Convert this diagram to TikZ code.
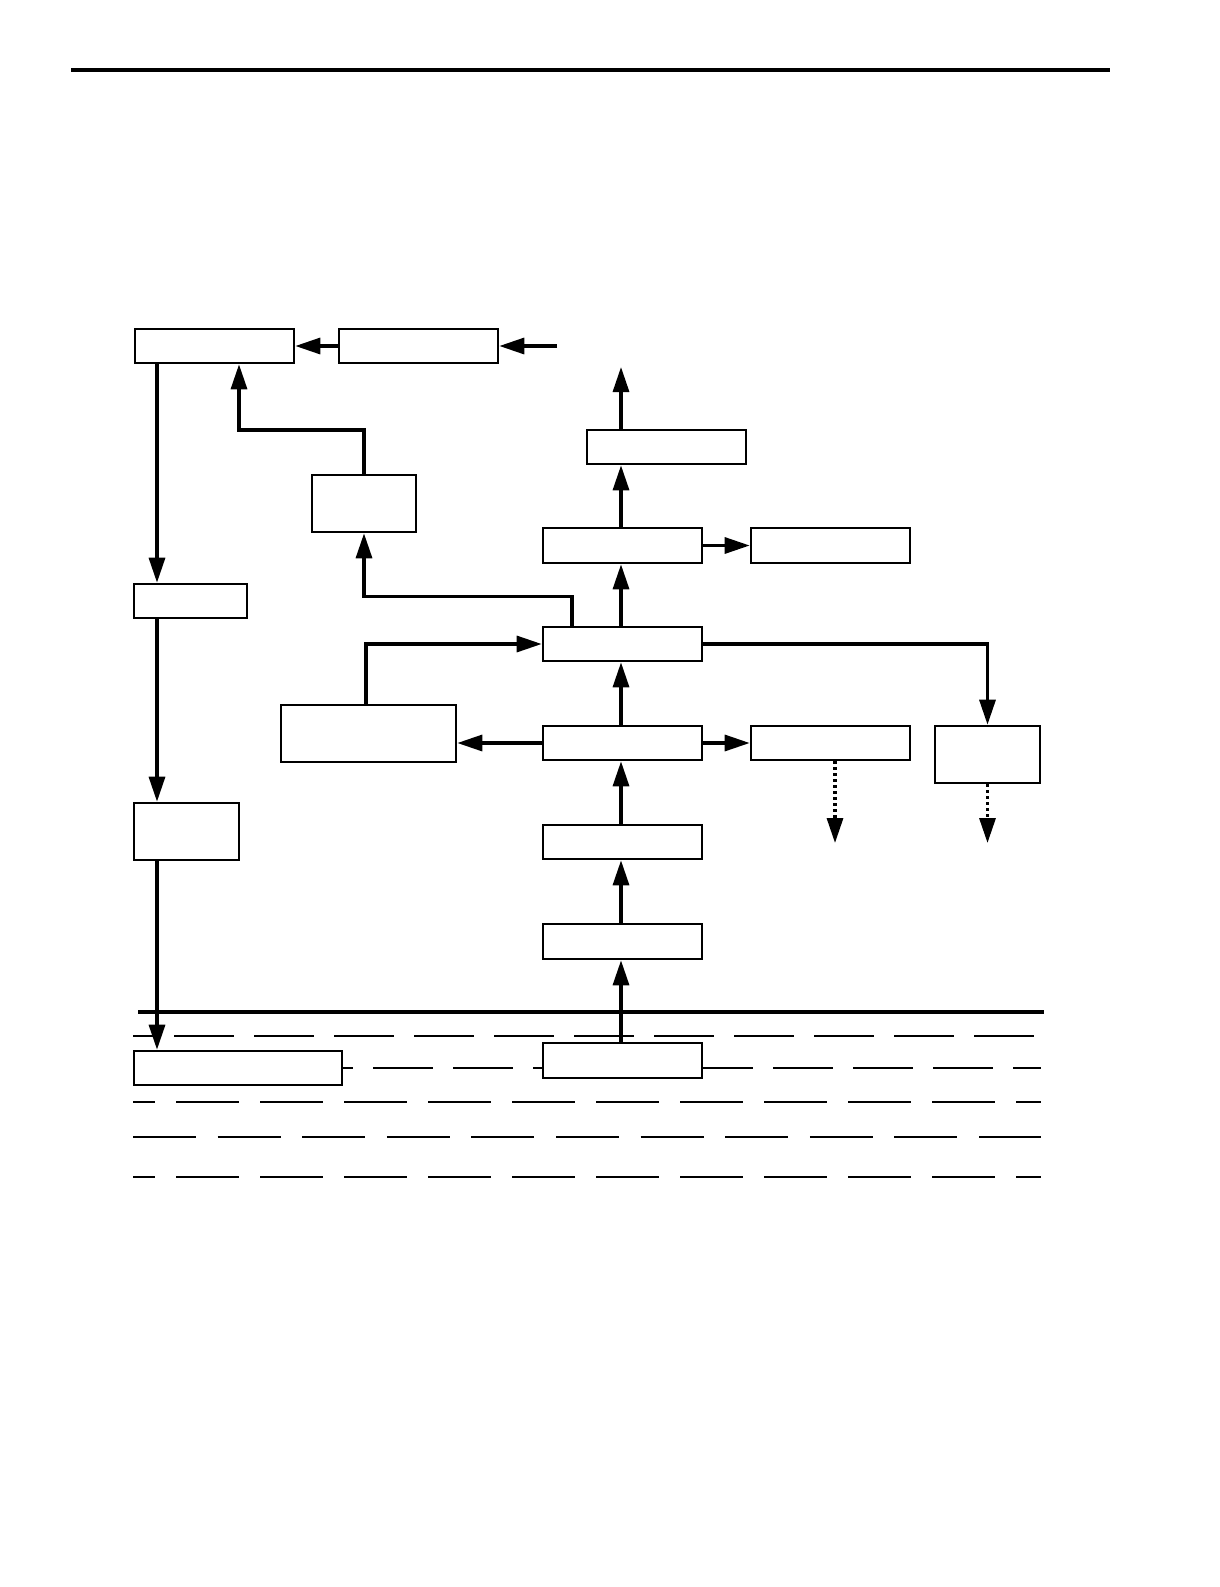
\documentclass[tikz,border=0pt]{standalone}
\usetikzlibrary{arrows.meta,calc}
\tikzset{
  box/.style={draw, line width=2.6pt, fill=white, inner sep=0pt, rectangle},
  arr/.style={line width=3.2pt, -{Triangle[length=25pt,width=16pt]}},
  dotarr/.style={line width=3.2pt, dash pattern=on 3pt off 3pt, -{Triangle[length=25pt,width=16pt]}},
  dashrow/.style={line width=2.2pt}
}
\begin{document}
\begin{tikzpicture}[x=1pt,y=-1pt]
\useasboundingbox (0,0) rectangle (1219,1587);
% top rule
\draw[line width=4pt] (71,70) -- (1110,70);
% dashed rows
\draw[dashrow, dash pattern=on 60pt off 20pt, dash phase=39pt] (133,1036) -- (1035,1036);
\draw[dashrow, dash pattern=on 60pt off 20pt] (133,1068) -- (1041,1068);
\draw[dashrow, dash pattern=on 63pt off 21pt, dash phase=41pt] (133,1102) -- (1041,1102);
\draw[dashrow, dash pattern=on 63pt off 21.6pt] (133,1137) -- (1041,1137);
\draw[dashrow, dash pattern=on 63pt off 21pt, dash phase=41pt] (133,1177) -- (1041,1177);
% thick ground line
\draw[line width=3.4pt] (138,1012) -- (1044,1012);
% boxes
\node[box, minimum width=159pt, minimum height=34pt] (A) at (214.5,346) {};
\node[box, minimum width=159pt, minimum height=34pt] (B) at (418.5,346) {};
\node[box, minimum width=113pt, minimum height=34pt] (C) at (190.5,601) {};
\node[box, minimum width=104pt, minimum height=57pt] (D) at (364,503.5) {};
\node[box, minimum width=159pt, minimum height=34pt] (E) at (666.5,447) {};
\node[box, minimum width=159pt, minimum height=35pt] (F) at (622.5,545.5) {};
\node[box, minimum width=159pt, minimum height=35pt] (G) at (830.5,545.5) {};
\node[box, minimum width=159pt, minimum height=34pt] (H) at (622.5,644) {};
\node[box, minimum width=175pt, minimum height=57pt] (I) at (368.5,733.5) {};
\node[box, minimum width=105pt, minimum height=57pt] (J) at (987.5,754.5) {};
\node[box, minimum width=159pt, minimum height=34pt] (K) at (622.5,743) {};
\node[box, minimum width=159pt, minimum height=34pt] (L) at (830.5,743) {};
\node[box, minimum width=159pt, minimum height=34pt] (M) at (622.5,842) {};
\node[box, minimum width=159pt, minimum height=35pt] (N) at (622.5,941.5) {};
\node[box, minimum width=159pt, minimum height=35pt] (O) at (622.5,1060.5) {};
\node[box, minimum width=105pt, minimum height=57pt] (P) at (186.5,831.5) {};
\node[box, minimum width=208pt, minimum height=34pt] (Q) at (238,1068) {};
% helper coordinates
\coordinate (lx) at (157,0);
\coordinate (mx) at (621,0);
\coordinate (ax) at (239,0);
\coordinate (hx) at (572,0);
\coordinate (bin) at (557,346);
\coordinate (etop) at (621,367);
\coordinate (lend) at (835,843);
\coordinate (jend) at (987.5,843);
% connectors
\draw[arr] (bin) -- (B.east);
\draw[arr] (B.west) -- (A.east);
\draw[arr] (A.south -| lx) -- (C.north -| lx);
\draw[arr] (C.south -| lx) -- (P.north -| lx);
\draw[arr] (P.south -| lx) -- (Q.north -| lx);
\draw[arr] (D.north) |- (239,430) -- (A.south -| ax);
\draw[arr] (H.north -| hx) |- ($(D.south)+(0,63)$) -- (D.south);
\draw[arr] (H.north -| mx) -- (F.south -| mx);
\draw[arr] (F.east) -- (G.west);
\draw[arr] (F.north -| mx) -- (E.south -| mx);
\draw[arr] (E.north -| mx) -- (etop);
\draw[arr] (I.north -| 366,0) |- (H.west);
\draw[arr] (H.east) -| (J.north);
\draw[arr] (K.north -| mx) -- (H.south -| mx);
\draw[arr] (K.west) -- (K.west -| I.east);
\draw[arr] (K.east) -- (L.west);
\draw[dotarr] (L.south -| lend) -- (lend);
\draw[dotarr] (J.south) -- (jend);
\draw[arr] (M.north -| mx) -- (K.south -| mx);
\draw[arr] (N.north -| mx) -- (M.south -| mx);
\draw[arr] (O.north -| mx) -- (N.south -| mx);
\end{tikzpicture}
\end{document}
